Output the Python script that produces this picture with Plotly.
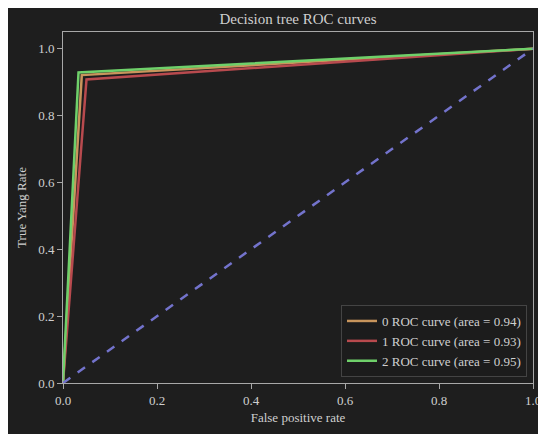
import plotly.graph_objects as go

# Data
class_names = ["0", "1", "2"]
fpr = [[0.0, 0.04, 1.0], [0.0, 0.05, 1.0], [0.0, 0.033, 1.0]]
tpr = [[0.0, 0.921, 1.0], [0.0, 0.908, 1.0], [0.0, 0.929, 1.0]]
areas = [0.94, 0.93, 0.95]
diag_x = [0.0, 1.0]
diag_y = [0.0, 1.0]
x_ticks = [0.0, 0.2, 0.4, 0.6, 0.8, 1.0]
y_ticks = [0.0, 0.2, 0.4, 0.6, 0.8, 1.0]

colors = ["#c8955c", "#b84a4e", "#6fd06a"]
bg = "#1e1e1e"
txt = "#cfcfcf"
spine = "#a8a8a8"
font_family = "Liberation Serif, Times New Roman, serif"

fig = go.Figure()
for name, fx, ty, a, c in zip(class_names, fpr, tpr, areas, colors):
    fig.add_trace(go.Scatter(
        x=fx, y=ty, mode="lines",
        line=dict(color=c, width=2.5),
        name=f"{name} ROC curve (area = {a:.2f})",
    ))
fig.add_trace(go.Scatter(
    x=diag_x, y=diag_y, mode="lines",
    line=dict(color="#7373cc", width=2.5, dash="dash"),
    showlegend=False,
))

W, H = 546, 434
ml, mr, mt, mb = 55, 21, 24, 59
pw = W - ml - mr
ph = H - mt - mb

fig.update_layout(
    width=W, height=H,
    margin=dict(l=ml, r=mr, t=mt, b=mb, autoexpand=False),
    paper_bgcolor=bg, plot_bgcolor=bg,
    font=dict(family=font_family, color=txt, size=13),
    title=dict(text="Decision tree ROC curves", x=(ml + pw / 2) / W, xanchor="center",
               y=1 - 11 / H, yanchor="middle", font=dict(size=15, color=txt)),
    legend=dict(x=1 - 6 / pw, y=6 / ph, xanchor="right", yanchor="bottom",
                bgcolor="#1c1c1c", bordercolor="#444444", borderwidth=1,
                font=dict(size=13, color=txt), tracegroupgap=0),
)
fig.update_xaxes(
    range=[0, 1], tickvals=x_ticks, tickformat=".1f", automargin=False,
    showgrid=False, zeroline=False,
    showline=True, linecolor=spine, linewidth=1, mirror=True,
    ticks="outside", ticklen=5, tickcolor=spine,
    title=dict(text="False positive rate", font=dict(size=13, color=txt), standoff=6),
)
fig.update_yaxes(
    range=[0, 1.05], tickvals=y_ticks, tickformat=".1f", automargin=False,
    showgrid=False, zeroline=False,
    showline=True, linecolor=spine, linewidth=1, mirror=True,
    ticks="outside", ticklen=5, tickcolor=spine,
    title=dict(text="True Yang Rate", font=dict(size=13, color=txt), standoff=8),
)

fig.write_html("out.html")
